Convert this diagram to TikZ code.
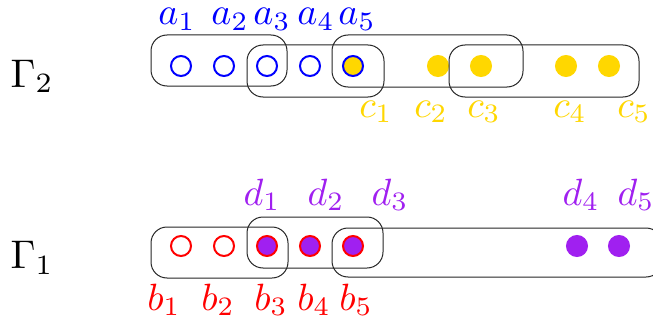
\documentclass[tikz,border=0pt]{standalone}
\definecolor{cblue}{RGB}{0,0,255}
\definecolor{cgold}{RGB}{255,215,0}
\definecolor{cpurple}{RGB}{160,32,240}
\definecolor{cred}{RGB}{255,0,0}
\tikzset{
  vtx/.style={circle, minimum size=20pt, inner sep=0pt, line width=2pt},
  hedge/.style={draw=black!85, line width=1pt, rounded corners=16pt},
  lab/.style={anchor=base, inner sep=0pt, font=\fontsize{10}{12}\selectfont, scale=3.8},
  glab/.style={anchor=base, inner sep=0pt, font=\fontsize{10}{12}\selectfont, scale=4.0},
}
\begin{document}
\begin{tikzpicture}[x=1pt,y=-1pt]
\clip (0,0) rectangle (653,321);
\fill[white] (0,0) rectangle (653,321);
% Gamma labels
\node[glab] (g2) at (32,87) {$\Gamma_2$};
\node[glab] (g1) at (32,268) {$\Gamma_1$};
% top row vertices
\node[vtx,draw=cblue] (a1) at (181,66) {};
\node[vtx,draw=cblue] (a2) at (224,66) {};
\node[vtx,draw=cblue] (a3) at (267,66) {};
\node[vtx,draw=cblue] (a4) at (310,66) {};
\node[vtx,draw=cblue,fill=cgold] (a5) at (353,66) {};
\node[vtx,fill=cgold,draw=cgold] (c2) at (438,66) {};
\node[vtx,fill=cgold,draw=cgold] (c3) at (481,66) {};
\node[vtx,fill=cgold,draw=cgold] (c4) at (566,66) {};
\node[vtx,fill=cgold,draw=cgold] (c5) at (609,66) {};
% top hyperedges
\draw[hedge] (151,35) rectangle (287,86);
\draw[hedge] (247,45) rectangle (384,97);
\draw[hedge] (332,35) rectangle (523,87);
\draw[hedge] (449,45) rectangle (639,97);
% top labels
\node[lab,text=cblue] (la1) at (177,25) {$a_1$};
\node[lab,text=cblue] (la2) at (230,25) {$a_2$};
\node[lab,text=cblue] (la3) at (272,25) {$a_3$};
\node[lab,text=cblue] (la4) at (316,25) {$a_4$};
\node[lab,text=cblue] (la5) at (357,25) {$a_5$};
\node[lab,text=cgold] (lc1) at (376,117) {$c_1$};
\node[lab,text=cgold] (lc2) at (431,117) {$c_2$};
\node[lab,text=cgold] (lc3) at (484,117) {$c_3$};
\node[lab,text=cgold] (lc4) at (570,117) {$c_4$};
\node[lab,text=cgold] (lc5) at (634,117) {$c_5$};
% bottom row vertices
\node[vtx,draw=cred] (b1) at (181,246) {};
\node[vtx,draw=cred] (b2) at (224,246) {};
\node[vtx,draw=cred,fill=cpurple] (b3) at (267,246) {};
\node[vtx,draw=cred,fill=cpurple] (b4) at (310,246) {};
\node[vtx,draw=cred,fill=cpurple] (b5) at (353,246) {};
\node[vtx,fill=cpurple,draw=cpurple] (d4) at (577,246) {};
\node[vtx,fill=cpurple,draw=cpurple] (d5) at (619,246) {};
% bottom hyperedges
\draw[hedge] (151,227) rectangle (288,278);
\draw[hedge] (247,217) rectangle (383,268);
\draw[hedge] (332,228) rectangle (662,277);
% bottom labels
\node[lab,text=cpurple] (ld1) at (262,205) {$d_1$};
\node[lab,text=cpurple] (ld2) at (326,205) {$d_2$};
\node[lab,text=cpurple] (ld3) at (390,205) {$d_3$};
\node[lab,text=cpurple] (ld4) at (581,205) {$d_4$};
\node[lab,text=cpurple] (ld5) at (636,205) {$d_5$};
\node[lab,text=cred] (lb1) at (164,310) {$b_1$};
\node[lab,text=cred] (lb2) at (218,310) {$b_2$};
\node[lab,text=cred] (lb3) at (271,310) {$b_3$};
\node[lab,text=cred] (lb4) at (314,310) {$b_4$};
\node[lab,text=cred] (lb5) at (356,310) {$b_5$};
\end{tikzpicture}
\end{document}
